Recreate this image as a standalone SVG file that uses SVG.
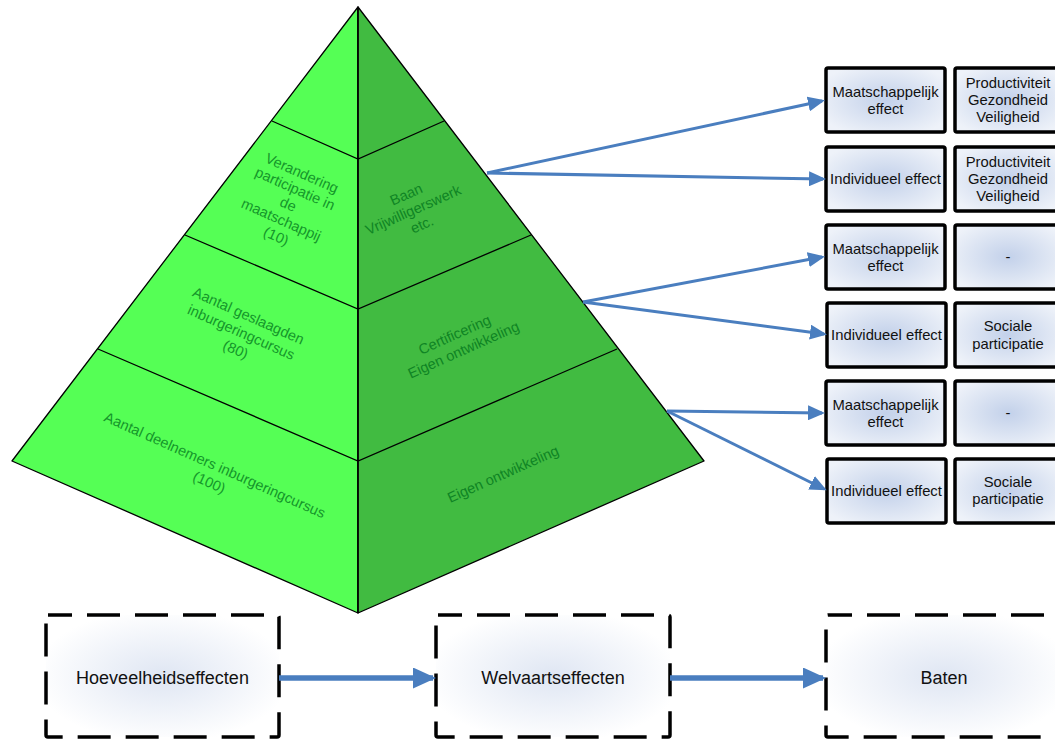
<svg xmlns="http://www.w3.org/2000/svg" width="1055" height="740" viewBox="0 0 1055 740">
  <defs>
    <radialGradient id="boxFill" cx="50%" cy="50%" r="60%">
      <stop offset="0" stop-color="#c3d1ea"/>
      <stop offset="1" stop-color="#eef2f9"/>
    </radialGradient>
    <radialGradient id="phaseFill" cx="50%" cy="50%" r="55%">
      <stop offset="0" stop-color="#dfe6f3"/>
      <stop offset="1" stop-color="#ffffff"/>
    </radialGradient>
    <marker id="ah" markerUnits="userSpaceOnUse" markerWidth="17" markerHeight="15" refX="14" refY="7.5" orient="auto">
      <path d="M0,0 L17,7.5 L0,15 z" fill="#4a7ebf"/>
    </marker>
    <marker id="ahBig" markerUnits="userSpaceOnUse" markerWidth="23" markerHeight="21" refX="20" refY="10.5" orient="auto">
      <path d="M0,0 L23,10.5 L0,21 z" fill="#4a7ebf"/>
    </marker>
  </defs>
  <style>
    .face-l { fill: #55ff55; stroke: #000; stroke-width: 1.3; stroke-linejoin: round; }
    .face-r { fill: #41bb41; stroke: #000; stroke-width: 1.3; stroke-linejoin: round; }
    .band { stroke: #000; stroke-width: 1.3; fill: none; }
    .ptext { font-family: "Liberation Sans", Arial, sans-serif; font-size: 14.5px; fill: #14962a; text-anchor: middle; }
    .ptext.dark { fill: #0f8424; }
    .effect rect { fill: url(#boxFill); stroke: #000; stroke-width: 3.5; }
    .effect text, .phase text { font-family: "Liberation Sans", Arial, sans-serif; fill: #111; text-anchor: middle; }
    .effect text { font-size: 14.8px; }
    .phase rect { fill: url(#phaseFill); stroke: #000; stroke-width: 3.5; stroke-dasharray: 33 15; stroke-dashoffset: 9; }
    .phase text { font-size: 18px; }
    .link { stroke: #4a7ebf; stroke-width: 3; fill: none; marker-end: url(#ah); }
    .flow { stroke: #4a7ebf; stroke-width: 5.5; fill: none; marker-end: url(#ahBig); }
  </style>

  <!-- pyramid -->
  <g id="pyramid">
    <polygon class="face-l" points="358,7 12,461 358,613"/>
    <polygon class="face-r" points="358,7 704,461 358,613"/>
    <path class="band" d="M272,121 L358,159 L444,121 M185,235 L358,309 L531,235 M98,349 L358,461 L617,349 M358,7 L358,613"/>
  </g>

  <g id="level-top-left">
    <text class="ptext" transform="translate(290,205) rotate(24)">
      <tspan x="0" y="-29">Verandering</tspan>
      <tspan x="0" y="-12">participatie in</tspan>
      <tspan x="0" y="5">de</tspan>
      <tspan x="0" y="22">maatschappij</tspan>
      <tspan x="0" y="39">(10)</tspan>
    </text>
  </g>
  <g id="level-mid-left">
    <text class="ptext" transform="translate(243,333) rotate(24)">
      <tspan x="0" y="-13">Aantal geslaagden</tspan>
      <tspan x="0" y="5">inburgeringcursus</tspan>
      <tspan x="0" y="23">(80)</tspan>
    </text>
  </g>
  <g id="level-base-left">
    <text class="ptext" transform="translate(213,474) rotate(24)">
      <tspan x="0" y="-4">Aantal deelnemers inburgeringcursus</tspan>
      <tspan x="0" y="14">(100)</tspan>
    </text>
  </g>
  <g id="level-top-right">
    <text class="ptext dark" transform="translate(415,209) rotate(-24)">
      <tspan x="0" y="-12">Baan</tspan>
      <tspan x="0" y="5">Vrijwilligerswerk</tspan>
      <tspan x="0" y="22">etc.</tspan>
    </text>
  </g>
  <g id="level-mid-right">
    <text class="ptext dark" transform="translate(460,342) rotate(-24)">
      <tspan x="0" y="-4">Certificering</tspan>
      <tspan x="0" y="13.5">Eigen ontwikkeling</tspan>
    </text>
  </g>
  <g id="level-base-right">
    <text class="ptext dark" transform="translate(503,474) rotate(-24)">
      <tspan x="0" y="5">Eigen ontwikkeling</tspan>
    </text>
  </g>

  <!-- effect boxes -->
  <g id="effect-1" class="effect">
    <rect x="826" y="68" width="119" height="64" rx="2"/>
    <text><tspan x="885.5" y="96.5">Maatschappelijk</tspan><tspan x="885.5" y="113.5">effect</tspan></text>
  </g>
  <g id="value-1" class="effect">
    <rect x="955" y="68" width="107" height="64" rx="2"/>
    <text><tspan x="1008" y="88">Productiviteit</tspan><tspan x="1008" y="105">Gezondheid</tspan><tspan x="1008" y="122">Veiligheid</tspan></text>
  </g>
  <g id="effect-2" class="effect">
    <rect x="826" y="147" width="119" height="64" rx="2"/>
    <text x="885.5" y="184">Individueel effect</text>
  </g>
  <g id="value-2" class="effect">
    <rect x="955" y="147" width="107" height="64" rx="2"/>
    <text><tspan x="1008" y="167">Productiviteit</tspan><tspan x="1008" y="184">Gezondheid</tspan><tspan x="1008" y="201">Veiligheid</tspan></text>
  </g>
  <g id="effect-3" class="effect">
    <rect x="826" y="225" width="119" height="64" rx="2"/>
    <text><tspan x="885.5" y="253.5">Maatschappelijk</tspan><tspan x="885.5" y="270.5">effect</tspan></text>
  </g>
  <g id="value-3" class="effect">
    <rect x="955" y="225" width="107" height="64" rx="2"/>
    <text x="1008" y="262">-</text>
  </g>
  <g id="effect-4" class="effect">
    <rect x="827" y="303" width="119" height="64" rx="2"/>
    <text x="886.5" y="340">Individueel effect</text>
  </g>
  <g id="value-4" class="effect">
    <rect x="955" y="303" width="107" height="64" rx="2"/>
    <text><tspan x="1008" y="331">Sociale</tspan><tspan x="1008" y="348.5">participatie</tspan></text>
  </g>
  <g id="effect-5" class="effect">
    <rect x="826" y="381" width="119" height="64" rx="2"/>
    <text><tspan x="885.5" y="409.5">Maatschappelijk</tspan><tspan x="885.5" y="426.5">effect</tspan></text>
  </g>
  <g id="value-5" class="effect">
    <rect x="955" y="381" width="107" height="64" rx="2"/>
    <text x="1008" y="418">-</text>
  </g>
  <g id="effect-6" class="effect">
    <rect x="827" y="459" width="119" height="64" rx="2"/>
    <text x="886.5" y="496">Individueel effect</text>
  </g>
  <g id="value-6" class="effect">
    <rect x="955" y="459" width="107" height="64" rx="2"/>
    <text><tspan x="1008" y="486.5">Sociale</tspan><tspan x="1008" y="504">participatie</tspan></text>
  </g>

  <!-- phase boxes -->
  <g id="phase-quantity" class="phase">
    <rect x="46" y="615" width="233" height="122" rx="2"/>
    <text x="162.5" y="684">Hoeveelheidseffecten</text>
  </g>
  <g id="phase-welfare" class="phase">
    <rect x="436" y="615" width="234" height="122" rx="2"/>
    <text x="553" y="684">Welvaartseffecten</text>
  </g>
  <g id="phase-benefits" class="phase">
    <rect x="826" y="615" width="236" height="122" rx="2"/>
    <text x="944" y="684">Baten</text>
  </g>

  <!-- connectors -->
  <g id="connectors">
    <path class="link" d="M487,173 L822,101"/>
    <path class="link" d="M487,173 L823,179"/>
    <path class="link" d="M583,302 L822,257"/>
    <path class="link" d="M583,302 L824,334"/>
    <path class="link" d="M667,411 L822,413"/>
    <path class="link" d="M667,411 L824,489"/>
    <path class="flow" d="M279,678 L433,678"/>
    <path class="flow" d="M670,678 L823,678"/>
  </g>
</svg>
